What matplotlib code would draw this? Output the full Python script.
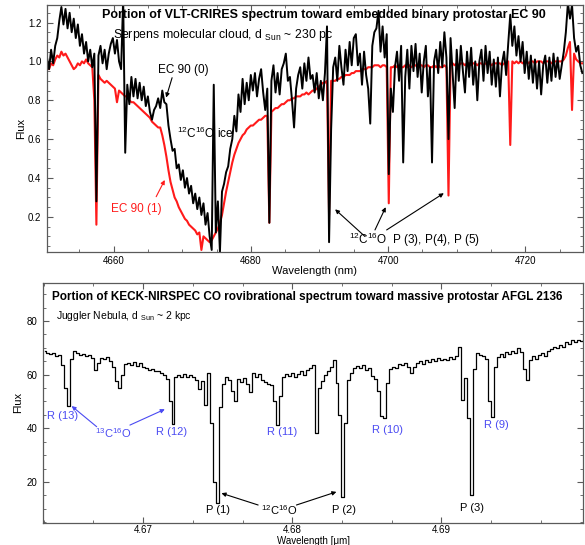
import numpy as np
import matplotlib
matplotlib.use("Agg")
import matplotlib.pyplot as plt
from matplotlib.ticker import MultipleLocator, FormatStrFormatter

plt.rcParams["font.family"] = ["Liberation Sans", "DejaVu Sans"]
plt.rcParams["mathtext.fontset"] = "custom"
plt.rcParams["mathtext.rm"] = "Liberation Sans"
plt.rcParams["mathtext.it"] = "Liberation Sans:italic"
plt.rcParams["mathtext.bf"] = "Liberation Sans:bold"

# VLT-CRIRES spectra of EC 90, one value every 0.3 nm starting at 4650.3 nm
crires_start = 4650.3
crires_step = 0.3

ec90_0_flux = [
    1.02, 0.96, 1.06, 0.99, 1.08, 1.12, 1.21, 1.28, 1.19, 1.27,
    1.17, 1.25, 1.15, 1.22, 1.12, 1.19, 1.08, 1.14, 1.04, 1.10,
    1.00, 1.06, 0.97, 1.04, 0.28, 1.03, 1.08, 0.99, 1.06, 0.96,
    1.04, 1.09, 1.12, 1.04, 1.11, 1.00, 0.96, 1.32, 0.53, 0.88,
    0.78, 0.92, 0.82, 0.91, 0.81, 0.89, 0.80, 0.87, 0.77, 0.82,
    0.74, 0.70, 0.75, 0.77, 0.81, 0.76, 0.85, 0.79, 0.78, 0.67,
    0.60, 0.54, 0.55, 0.45, 0.47, 0.39, 0.44, 0.35, 0.40, 0.32,
    0.36, 0.27, 0.32, 0.24, 0.30, 0.21, 0.27, 0.16, 0.22, 0.10,
    0.03, 0.88, 0.12, 0.28, 0.02, 0.33, 0.37, 0.43, 0.46, 0.55,
    0.60, 0.72, 0.64, 0.83, 0.74, 0.91, 0.78, 0.89, 0.80, 0.93,
    0.85, 0.94, 0.82, 0.91, 0.96, 0.84, 0.75, 0.86, 0.17, 0.90,
    0.98, 0.84, 0.94, 0.83, 0.96, 0.99, 1.04, 0.90, 0.92, 0.80,
    0.66, 0.86, 0.93, 0.97, 0.86, 0.99, 0.90, 1.02, 0.91, 0.93,
    0.84, 0.94, 0.81, 0.90, 0.80, 0.94, 1.18, 0.07, 0.65, 0.97,
    1.02, 0.90, 1.08, 0.97, 0.88, 1.06, 0.95, 1.10, 0.98, 1.12,
    1.14, 0.98, 1.04, 0.88, 1.05, 0.93, 0.86, 0.68, 1.08, 1.15,
    1.17, 1.26, 1.05, 1.18, 1.02, 1.14, 0.42, 0.86, 0.74, 0.97,
    1.05, 0.90, 1.08, 0.48, 0.92, 1.06, 0.86, 1.08, 0.95, 1.09,
    0.92, 1.04, 0.84, 1.00, 1.08, 0.82, 0.97, 0.48, 1.00, 1.06,
    0.94, 1.10, 0.97, 1.15, 1.02, 0.60, 1.12, 0.94, 0.76, 1.06,
    0.90, 1.08, 0.95, 0.84, 1.05, 0.92, 1.07, 0.88, 1.00, 0.80,
    1.00, 1.06, 0.90, 1.08, 0.94, 1.05, 0.88, 1.01, 0.87, 1.02,
    0.82, 0.99, 1.05, 0.93, 1.09, 1.24, 1.08, 1.18, 1.03, 1.13,
    1.00, 1.10, 0.94, 1.05, 0.91, 1.03, 0.89, 1.01, 0.86, 1.00,
    0.83, 0.98, 1.03, 0.89, 1.02, 0.90, 1.04, 0.92, 1.02, 0.91,
    0.98, 1.05, 1.15, 1.30, 1.22, 1.29, 1.12, 1.05, 1.08, 0.98,
    0.94,
]

ec90_1_flux = [
    0.97, 0.96, 0.99, 0.98, 1.01, 1.03, 1.02, 1.05, 1.03, 1.04,
    1.02, 1.00, 0.98, 0.96, 0.97, 0.99, 0.98, 1.00, 0.99, 1.01,
    0.99, 0.98, 0.97, 0.80, 0.16, 0.93, 0.91, 0.90, 0.89, 0.90,
    0.89, 0.88, 0.87, 0.86, 0.79, 0.85, 0.84, 0.83, 0.82, 0.82,
    0.80, 0.79, 0.79, 0.78, 0.77, 0.76, 0.75, 0.74, 0.73, 0.72,
    0.71, 0.69, 0.68, 0.67, 0.66, 0.66, 0.62, 0.57, 0.51, 0.44,
    0.38, 0.34, 0.30, 0.28, 0.25, 0.23, 0.21, 0.19, 0.18, 0.16,
    0.15, 0.14, 0.13, 0.11, 0.12, 0.03, 0.10, 0.09, 0.08, 0.07,
    0.08, 0.10, 0.12, 0.14, 0.17, 0.21, 0.27, 0.33, 0.38, 0.43,
    0.48, 0.52, 0.55, 0.58, 0.60, 0.62, 0.63, 0.65, 0.66, 0.67,
    0.67, 0.68, 0.69, 0.70, 0.70, 0.71, 0.72, 0.72, 0.17, 0.74,
    0.75, 0.76, 0.76, 0.77, 0.78, 0.78, 0.79, 0.80, 0.80, 0.81,
    0.81, 0.82, 0.82, 0.82, 0.83, 0.83, 0.84, 0.83, 0.84, 0.85,
    0.85, 0.86, 0.87, 0.88, 0.89, 0.89, 0.90, 0.21, 0.90, 0.90,
    0.90, 0.91, 0.91, 0.92, 0.92, 0.93, 0.93, 0.93, 0.94, 0.94,
    0.95, 0.95, 0.95, 0.96, 0.96, 0.96, 0.97, 0.97, 0.97, 0.98,
    0.98, 0.98, 0.97, 0.98, 0.98, 0.97, 0.27, 0.97, 0.97, 0.98,
    0.97, 0.98, 0.97, 0.97, 0.98, 0.97, 0.98, 0.97, 0.98, 0.98,
    0.97, 0.98, 0.98, 0.97, 0.98, 0.98, 0.97, 0.97, 0.98, 0.97,
    0.98, 0.97, 0.97, 0.98, 0.97, 0.31, 0.98, 0.99, 0.98, 0.99,
    0.98, 0.99, 0.99, 0.98, 0.99, 0.99, 0.98, 0.99, 0.99, 0.98,
    0.99, 0.99, 0.98, 0.99, 0.99, 0.99, 0.98, 0.99, 0.99, 0.99,
    0.99, 0.98, 0.99, 0.99, 1.00, 0.57, 1.00, 0.99, 1.00, 0.99,
    1.00, 0.99, 1.00, 1.00, 0.99, 1.00, 1.00, 0.99, 1.00, 1.00,
    1.00, 0.99, 1.00, 1.00, 1.00, 0.99, 1.00, 1.00, 1.00, 1.00,
    1.00, 1.01, 1.03, 1.07, 1.10, 0.75, 1.04, 1.01, 1.00, 0.99,
    0.99,
]

# KECK-NIRSPEC spectrum of AFGL 2136, one value every 0.0002 um from 4.6634 um
nirspec_start = 4.6634
nirspec_step = 0.0002

afgl2136_flux = [
    69.0, 68.2, 67.6, 68.1, 66.9, 67.5, 63.5, 55.0, 48.3, 66.0,
    68.8, 68.0, 67.3, 67.8, 66.9, 67.2, 66.4, 61.7, 64.5, 66.3,
    65.8, 66.5, 65.2, 63.0, 57.5, 54.9, 60.0, 63.8, 64.5, 63.6,
    64.8, 63.4, 64.3, 62.9, 62.6, 61.8, 62.0, 61.2, 61.5, 60.6,
    60.0, 58.5, 50.0, 41.5, 59.0, 60.0, 59.3, 60.1, 59.0, 59.8,
    59.2, 58.0, 54.5, 57.5, 48.7, 60.5, 42.0, 20.0, 12.3, 48.0,
    56.5, 59.0, 58.0, 54.0, 50.0, 58.3, 57.2, 58.8, 56.5, 53.6,
    60.5, 59.0, 60.3, 58.0, 57.2, 56.5, 56.0, 50.0, 41.2, 52.0,
    59.2, 60.3, 59.5, 60.6, 59.0, 60.2, 61.5, 60.0, 61.8, 62.5,
    63.6, 38.1, 55.0, 57.5, 59.8, 61.5, 63.0, 65.5, 57.0, 45.0,
    14.5, 42.0, 58.0, 60.8, 62.5, 63.2, 62.4, 63.5, 61.8, 62.6,
    59.5, 58.5, 54.0, 44.5, 43.7, 57.0, 62.0, 63.0, 62.5, 64.0,
    63.5, 64.3, 62.8, 60.5, 63.0, 64.5, 65.0, 64.0, 65.5, 64.8,
    65.8, 65.0, 66.2, 65.4, 66.0, 65.5, 66.5, 65.8, 66.8, 70.4,
    50.6, 58.6, 44.0, 15.1, 62.0, 68.0, 67.5, 66.8, 66.0, 50.0,
    44.3, 63.0, 66.7, 67.8, 66.5, 68.3, 67.6, 69.0, 68.0, 70.0,
    68.5, 62.0, 58.0, 65.5, 66.8, 66.0, 67.5, 68.0, 67.0, 68.8,
    69.5, 70.4, 69.8, 71.0, 70.2, 72.0, 71.5, 73.0, 72.2, 72.9,
    72.5, 73.0,
]

BLUE = "#4a4af2"
RED = "#ff1a1a"
FRAME = "#5a5a5a"
CO12 = r"$^{12}$C$^{16}$O"
CO13 = r"$^{13}$C$^{16}$O"


def style_axes(ax, xmajor, xminor, ymajor, yminor, xfmt, xpad=3):
    ax.xaxis.set_major_locator(MultipleLocator(xmajor))
    ax.xaxis.set_minor_locator(MultipleLocator(xminor))
    ax.yaxis.set_major_locator(MultipleLocator(ymajor))
    ax.yaxis.set_minor_locator(MultipleLocator(yminor))
    ax.xaxis.set_major_formatter(FormatStrFormatter(xfmt))
    ax.tick_params(which="both", direction="in", top=True, right=True,
                   color=FRAME, labelsize=7)
    ax.tick_params(which="major", length=4, width=0.8)
    ax.tick_params(which="minor", length=2, width=0.6)
    ax.tick_params(axis="x", pad=xpad)
    ax.tick_params(axis="y", pad=4)
    for spine in ax.spines.values():
        spine.set_color(FRAME)
        spine.set_linewidth(0.9)


def arrow(ax, tail, head, color="black"):
    ax.annotate("", xy=head, xytext=tail,
                arrowprops=dict(arrowstyle="-|>", color=color, lw=0.8,
                                mutation_scale=6, shrinkA=0, shrinkB=0))


def plot_crires(ax):
    wl = crires_start + crires_step * np.arange(len(ec90_0_flux))
    wl1 = crires_start + crires_step * np.arange(len(ec90_1_flux))
    ax.plot(wl1, ec90_1_flux, color=RED, lw=1.5)
    ax.plot(wl, ec90_0_flux, color="black", lw=1.4)

    ax.set_xlim(4650.3, 4728.4)
    ax.set_ylim(0.022, 1.29)
    style_axes(ax, 20, 5, 0.2, 0.05, "%d")
    ax.set_xlabel("Wavelength (nm)", fontsize=8, labelpad=0)
    ax.set_ylabel("Flux", fontsize=8, labelpad=1)

    ax.text(0.102, 0.959,
            "Portion of VLT-CRIRES spectrum toward embedded binary protostar EC 90",
            transform=ax.transAxes, fontsize=9, fontweight="bold",
            ha="left", va="center")
    ax.text(0.123, 0.878, r"Serpens molecular cloud, d $_{\rm Sun}$ ~ 230 pc",
            transform=ax.transAxes, fontsize=8.8, ha="left", va="center")

    ax.text(4670.1, 0.954, "EC 90 (0)", fontsize=8.5, ha="center", va="center")
    arrow(ax, (4668.53, 0.916), (4667.66, 0.814))
    ax.text(4669.3, 0.631, CO12 + " ice", fontsize=8.5, ha="left", va="center")
    ax.text(4663.3, 0.241, "EC 90 (1)", fontsize=8.5, color=RED,
            ha="center", va="center")
    arrow(ax, (4666.21, 0.304), (4667.46, 0.39), color=RED)

    ax.text(4694.3, 0.082, CO12 + "  P (3), P(4), P (5)", fontsize=8.5,
            ha="left", va="center")
    arrow(ax, (4696.64, 0.099), (4692.28, 0.239))
    arrow(ax, (4698.09, 0.133), (4699.65, 0.25))
    arrow(ax, (4699.79, 0.133), (4708.12, 0.322))


def plot_nirspec(ax):
    wl = nirspec_start + nirspec_step * np.arange(len(afgl2136_flux))
    ax.plot(wl, afgl2136_flux, color="black", lw=0.9, drawstyle="steps-mid")

    ax.set_xlim(4.6633, 4.6995)
    ax.set_ylim(4.8, 94.3)
    style_axes(ax, 0.01, 0.01 / 3, 20, 5, "%.2f", xpad=2)
    ax.set_xlabel("Wavelength [\u03bcm]", fontsize=7, labelpad=0.5)
    ax.set_ylabel("Flux", fontsize=8, labelpad=3)

    ax.text(0.016, 0.942,
            "Portion of KECK-NIRSPEC CO rovibrational spectrum toward massive protostar AFGL 2136",
            transform=ax.transAxes, fontsize=8.45, fontweight="bold",
            ha="left", va="center")
    ax.text(0.0235, 0.8625, r"Juggler Nebula, d $_{\rm Sun}$ ~ 2 kpc",
            transform=ax.transAxes, fontsize=7.5, ha="left", va="center")

    blue_labels = [("R (13)", 4.66456, 44.7), ("R (12)", 4.67192, 38.5),
                   ("R (11)", 4.67930, 38.7), ("R (10)", 4.68642, 39.4),
                   ("R (9)", 4.69367, 41.2), (CO13, 4.66800, 38.4)]
    for label, x, y in blue_labels:
        ax.text(x, y, label, fontsize=8, color=BLUE, ha="center", va="center")
    arrow(ax, (4.66688, 40.6), (4.66520, 48.3), color=BLUE)
    arrow(ax, (4.66911, 41.2), (4.67145, 47.1), color=BLUE)

    black_labels = [("P (1)", 4.67501, 9.6), (CO12, 4.67910, 9.6),
                    ("P (2)", 4.68349, 9.6), ("P (3)", 4.69203, 10.4)]
    for label, x, y in black_labels:
        ax.text(x, y, label, fontsize=8, ha="center", va="center")
    arrow(ax, (4.67771, 11.4), (4.67525, 15.8))
    arrow(ax, (4.68028, 11.4), (4.68296, 16.3))


if __name__ == "__main__":
    fig = plt.figure(figsize=(5.85, 5.45), dpi=100)
    ax_top = fig.add_axes([0.0803, 0.5385, 0.9163, 0.4523])
    ax_bottom = fig.add_axes([0.0740, 0.0409, 0.9226, 0.4404])

    plot_crires(ax_top)
    plot_nirspec(ax_bottom)

    fig.savefig("out.png", dpi=100)
